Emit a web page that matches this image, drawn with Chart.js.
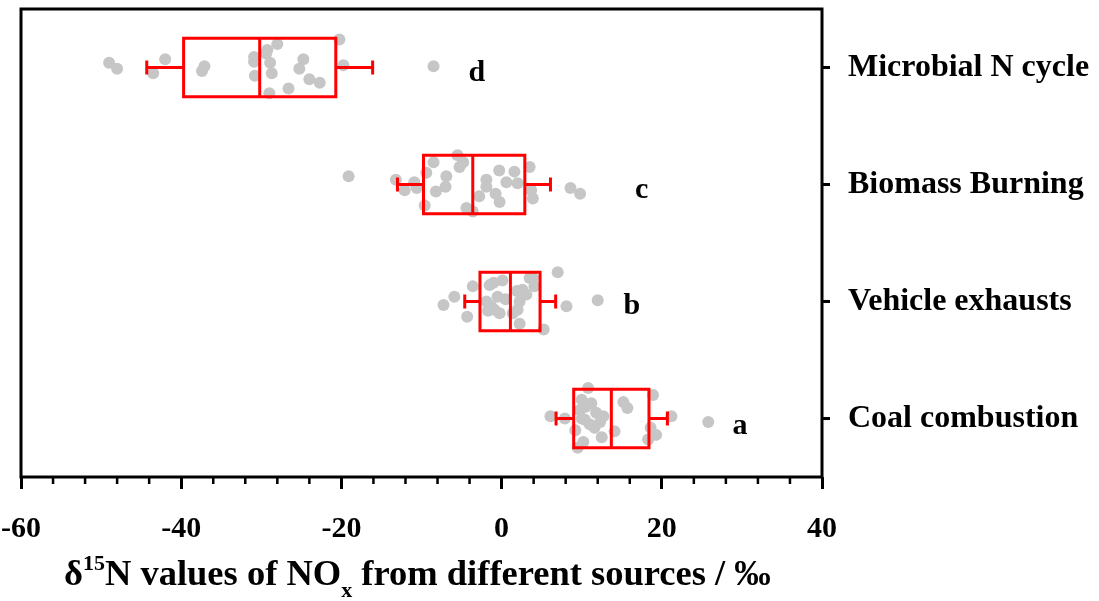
<!DOCTYPE html>
<html>
<head>
<meta charset="utf-8">
<script src="https://cdn.jsdelivr.net/npm/chart.js@4.4.1/dist/chart.umd.min.js"></script>
<style>
  html, body { margin: 0; padding: 0; background: #fff; }
  canvas { display: block; }
</style>
</head>
<body>
<canvas id="sourcesChart" width="1099" height="601"></canvas>
<script>
// ===== data =====
const categories = ['Microbial N cycle', 'Biomass Burning', 'Vehicle exhausts', 'Coal combustion'];
const groupLetters = ['d', 'c', 'b', 'a'];

// box statistics per source (‰)
const whiskerLow  = [-44.3, -13.0, -4.6, 6.8];
const q1          = [-39.7, -9.75, -2.7, 9.0];
const medians     = [-30.2, -3.6, 1.1, 13.7];
const q3          = [-20.7, 2.9, 4.8, 18.4];
const whiskerHigh = [-16.1, 6.1, 6.75, 20.7];

// individual measurements (‰) and their vertical spread inside each row
const microbialValues = [-49, -48, -42, -43.5, -37.1, -37.4, -30.9, -30.9, -30.8, -29.25, -28, -29.4, -28.9, -28.7, -29, -26.6, -24.75, -25.25, -24, -22.7, -20.25, -19.75, -8.5];
const microbialSpread = [-0.04, 0.01, -0.07, 0.05, -0.01, 0.03, -0.09, -0.05, 0.07, -0.15, -0.2, -0.12, -0.04, 0.05, 0.22, 0.18, -0.07, 0.01, 0.1, 0.13, -0.24, -0.02, -0.01];

const biomassValues = [-19.1, -13.2, -12.1, -10.9, -10.6, -9.6, -9.4, -8.5, -8.2, -6.9, -7.0, -5.5, -4.8, -5.25, -4.4, -3.6, -2.8, -1.9, -1.9, -0.75, -0.25, -0.3, 0.6, 1.6, 2.0, 3.5, 3.7, 3.9, 8.6, 9.8];
const biomassSpread = [-0.07, -0.04, 0.05, -0.02, 0.03, 0.18, -0.1, -0.19, 0.06, -0.07, 0.02, -0.25, -0.19, -0.15, 0.2, 0.23, 0.1, -0.04, 0.02, 0.08, 0.15, -0.12, -0.02, -0.11, -0.01, -0.15, 0.05, 0.12, 0.03, 0.08];

const vehicleValues = [-7.25, -5.9, -4.3, -3.6, -1.5, -1.3, -0.9, -0.5, 0.1, -0.25, 1.9, 2.25, 3.5, 3.1, 4.1, 2.25, 5.25, 7.0, 8.1, 12.0, -1.9, 1.4, -1.0, 0.5, 2.6, 3.9, 2.0, -1.7];
const vehicleSpread = [0.03, -0.04, 0.13, -0.13, -0.14, 0.04, 0.07, -0.04, -0.18, 0.1, -0.09, 0, -0.2, -0.06, -0.13, 0.19, 0.24, -0.25, 0.04, -0.01, 0, 0.1, -0.16, -0.02, -0.1, -0.2, 0.07, 0.08];

const coalValues = [6.1, 7.9, 9.75, 10.8, 10.4, 10.2, 11.2, 11.6, 12.5, 12.7, 14.1, 15.2, 15.7, 18.9, 19.3, 21.2, 25.8, 9.5, 11.8, 10.0, 9.2, 10.0, 11.0, 10.5, 12.3, 18.6, 18.3];
const coalSpread = [-0.02, 0, -0.07, -0.26, 0.01, 0.2, -0.13, 0.08, 0.16, -0.02, 0.11, -0.14, -0.09, -0.2, 0.14, -0.02, 0.03, 0.25, -0.05, -0.16, 0.1, 0.0, 0.05, -0.1, 0.03, 0.08, 0.18];

const xTickMin = -60, xTickMax = 40, minorStep = 4;

// ===== helpers =====
const serif = '"Liberation Serif", "Times New Roman", serif';

function toPoints(values, spread, row) {
  return values.map((v, i) => ({ x: v, y: row + spread[i] }));
}

const pointSets = [
  toPoints(microbialValues, microbialSpread, 0),
  toPoints(biomassValues, biomassSpread, 1),
  toPoints(vehicleValues, vehicleSpread, 2),
  toPoints(coalValues, coalSpread, 3)
];

// ===== box, whisker, frame, minor ticks, letters, axis title =====
const boxPlotPlugin = {
  id: 'boxPlot',
  afterDatasetsDraw(chart) {
    const { ctx, scales: { x, y } } = chart;
    ctx.save();
    ctx.strokeStyle = '#ff0000';
    ctx.lineWidth = 3;
    ctx.lineCap = 'butt';
    categories.forEach((c, i) => {
      const top = y.getPixelForValue(i - 0.25);
      const bot = y.getPixelForValue(i + 0.25);
      const mid = y.getPixelForValue(i);
      const capT = y.getPixelForValue(i - 0.06);
      const capB = y.getPixelForValue(i + 0.06);
      const xl = x.getPixelForValue(q1[i]);
      const xr = x.getPixelForValue(q3[i]);
      const xm = x.getPixelForValue(medians[i]);
      const wl = x.getPixelForValue(whiskerLow[i]);
      const wh = x.getPixelForValue(whiskerHigh[i]);

      ctx.beginPath();
      ctx.moveTo(wl, mid); ctx.lineTo(xl, mid);
      ctx.moveTo(xr, mid); ctx.lineTo(wh, mid);
      ctx.moveTo(wl, capT); ctx.lineTo(wl, capB);
      ctx.moveTo(wh, capT); ctx.lineTo(wh, capB);
      ctx.stroke();

      ctx.strokeRect(xl, top, xr - xl, bot - top);
      ctx.beginPath();
      ctx.moveTo(xm, top); ctx.lineTo(xm, bot);
      ctx.stroke();
    });
    ctx.restore();
  },
  afterDraw(chart) {
    const { ctx, chartArea: a, scales: { x, y } } = chart;
    ctx.save();
    // frame
    ctx.strokeStyle = '#000';
    ctx.lineWidth = 3;
    ctx.strokeRect(a.left, a.top, a.right - a.left, a.bottom - a.top);

    // minor ticks on the bottom axis
    ctx.lineWidth = 2.5;
    ctx.beginPath();
    for (let v = xTickMin; v <= xTickMax; v += minorStep) {
      if (v % 20 === 0) continue;
      const px = x.getPixelForValue(v);
      ctx.moveTo(px, a.bottom);
      ctx.lineTo(px, a.bottom + 7);
    }
    ctx.stroke();

    // group letters
    ctx.fillStyle = '#000';
    ctx.font = 'bold 30px ' + serif;
    ctx.textAlign = 'center';
    ctx.textBaseline = 'middle';
    const letterAt = [[-3.1, 0.05], [17.5, 0.05], [16.25, 0.04], [29.75, 0.07]];
    groupLetters.forEach((l, i) => {
      ctx.fillText(l, x.getPixelForValue(letterAt[i][0]), y.getPixelForValue(i + letterAt[i][1]));
    });

    // x axis title with super/subscripts
    const mainFont = 'bold 36.5px ' + serif;
    const smallFont = 'bold 22px ' + serif;
    const parts = [
      ['δ', mainFont, 0],
      ['15', smallFont, -15],
      ['N values of NO', mainFont, 0],
      ['x', smallFont, 12],
      [' from different sources / ‰', mainFont, 0]
    ];
    ctx.textAlign = 'left';
    ctx.textBaseline = 'alphabetic';
    let tx = 64;
    const baseY = 585;
    parts.forEach(([t, f, dy]) => {
      ctx.font = f;
      ctx.fillText(t, tx, baseY + dy);
      tx += ctx.measureText(t).width;
    });
    ctx.restore();
  }
};

// ===== chart =====
new Chart(document.getElementById('sourcesChart'), {
  type: 'scatter',
  data: {
    datasets: pointSets.map((pts, i) => ({
      label: categories[i],
      data: pts,
      pointRadius: 6,
      pointHoverRadius: 6,
      backgroundColor: '#c6c6c6',
      borderWidth: 0
    }))
  },
  options: {
    responsive: false,
    animation: false,
    layout: { padding: { left: 21, top: 9, right: 0, bottom: 0 } },
    plugins: { legend: { display: false }, tooltip: { enabled: false } },
    scales: {
      x: {
        type: 'linear',
        position: 'bottom',
        min: xTickMin,
        max: xTickMax,
        afterFit: s => { s.height = 124; s.paddingLeft = 0; s.paddingRight = 0; },
        ticks: {
          stepSize: 20,
          color: '#000',
          padding: 22,
          maxRotation: 0,
          font: { family: serif, size: 30, weight: 'bold' }
        },
        grid: {
          drawOnChartArea: false,
          drawTicks: true,
          tickLength: 12,
          tickWidth: 3,
          tickColor: '#000'
        },
        border: { display: false }
      },
      y: {
        type: 'linear',
        position: 'right',
        min: -0.5,
        max: 3.5,
        reverse: true,
        afterFit: s => { s.width = 277; s.paddingTop = 0; s.paddingBottom = 0; },
        afterBuildTicks: s => { s.ticks = categories.map((c, i) => ({ value: i })); },
        ticks: {
          color: '#000',
          padding: 18,
          callback: v => categories[v] ?? '',
          font: { family: serif, size: 32, weight: 'bold' }
        },
        grid: {
          drawOnChartArea: false,
          drawTicks: true,
          tickLength: 8,
          tickWidth: 3,
          tickColor: '#000'
        },
        border: { display: false }
      }
    }
  },
  plugins: [boxPlotPlugin]
});
</script>
</body>
</html>
